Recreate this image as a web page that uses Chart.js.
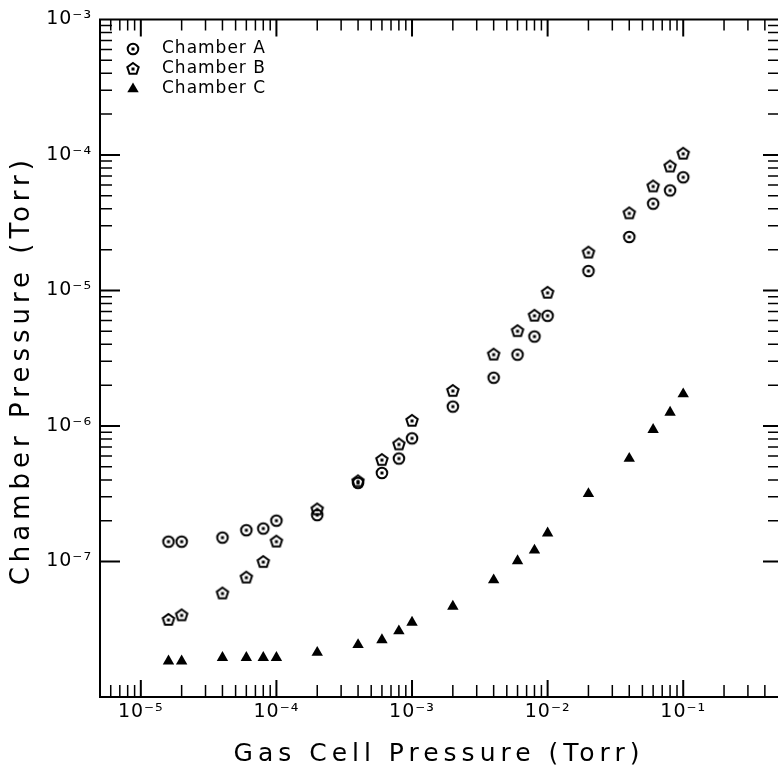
<!DOCTYPE html>
<html><head><meta charset="utf-8">
<script src="https://cdn.jsdelivr.net/npm/chart.js@4/dist/chart.umd.min.js"></script>
<style>html,body{margin:0;padding:0;background:#fff;overflow:hidden}#wrap{width:785px;height:773px;}</style>
</head><body>
<div id="wrap"><canvas id="c" width="785" height="773"></canvas></div>
<script>
// ---- data ----
const gasCellPressure = [1.6e-5, 2e-5, 4e-5, 6e-5, 8e-5, 1e-4, 2e-4, 4e-4, 6e-4, 8e-4, 1e-3, 2e-3, 4e-3, 6e-3, 8e-3, 1e-2, 2e-2, 4e-2, 6e-2, 8e-2, 1e-1];
const chamberA = [1.4e-7, 1.4e-7, 1.5e-7, 1.7e-7, 1.75e-7, 2.0e-7, 2.2e-7, 3.8e-7, 4.5e-7, 5.75e-7, 8.1e-7, 1.39e-6, 2.27e-6, 3.36e-6, 4.57e-6, 6.5e-6, 1.39e-5, 2.48e-5, 4.37e-5, 5.47e-5, 6.84e-5];
const chamberB = [3.7e-8, 4.0e-8, 5.8e-8, 7.6e-8, 9.9e-8, 1.4e-7, 2.42e-7, 3.9e-7, 5.6e-7, 7.3e-7, 1.09e-6, 1.81e-6, 3.36e-6, 5.0e-6, 6.5e-6, 9.6e-6, 1.9e-5, 3.7e-5, 5.85e-5, 8.2e-5, 1.02e-4];
const chamberC = [1.84e-8, 1.84e-8, 1.95e-8, 1.95e-8, 1.95e-8, 1.95e-8, 2.13e-8, 2.43e-8, 2.64e-8, 3.07e-8, 3.55e-8, 4.66e-8, 7.3e-8, 1.01e-7, 1.21e-7, 1.62e-7, 3.16e-7, 5.75e-7, 9.4e-7, 1.26e-6, 1.72e-6];
const seriesNames = ['Chamber A', 'Chamber B', 'Chamber C'];
const xTickExponents = [-5, -4, -3, -2, -1];
const yTickExponents = [-7, -6, -5, -4, -3];
const xTitle = 'Gas Cell Pressure (Torr)';
const yTitle = 'Chamber Pressure (Torr)';

// ---- helpers ----
const SUP = {'-':'\u207B','0':'\u2070','1':'\u00B9','2':'\u00B2','3':'\u00B3','4':'\u2074','5':'\u2075','6':'\u2076','7':'\u2077','8':'\u2078','9':'\u2079'};
function pow10Label(e){ return '10' + String(e).split('').map(c => SUP[c]).join(''); }

function makeMarker(kind){
  const s = 18, c = document.createElement('canvas'); c.width = s; c.height = s;
  const g = c.getContext('2d'); g.strokeStyle = '#000'; g.fillStyle = '#000'; g.lineWidth = 2;
  const cx = s/2, cy = s/2;
  g.beginPath();
  if (kind === 'circle') { g.arc(cx, cy, 5.3, 0, 2*Math.PI); }
  else {
    for (let k = 0; k < 5; k++) {
      const a = -Math.PI/2 + k*2*Math.PI/5;
      const px = cx + 6*Math.cos(a), py = cy + 6*Math.sin(a);
      if (k) g.lineTo(px, py); else g.moveTo(px, py);
    }
    g.closePath();
  }
  g.stroke();
  g.fillRect(cx - 1.5, cy - 1.5, 3, 3);
  return c;
}
const markerA = makeMarker('circle');
const markerB = makeMarker('pentagon');

function pts(ys){ return gasCellPressure.map((x, i) => ({x: x, y: ys[i]})); }

const FONT = 'DejaVu Sans';

const spacingPlugin = {
  id: 'spacing',
  afterLayout(chart){
    const ys = chart.scales.y;
    if (ys && !ys._shifted) {
      const orig = ys.drawTitle;
      ys.drawTitle = function(){ const c = this.ctx; c.save(); c.translate(0, 12); orig.apply(this, arguments); c.restore(); };
      ys._shifted = true;
    }
  },
  beforeDraw(chart){ chart.ctx.letterSpacing = '5px'; },
  beforeDatasetsDraw(chart){ chart.ctx.letterSpacing = '1px'; },
  afterDraw(chart){ chart.ctx.letterSpacing = '0px'; }
};

const frameTicks = {
  id: 'frameTicks',
  afterDraw(chart){
    const {ctx, chartArea: {left, right, top, bottom}, scales: {x, y}} = chart;
    ctx.save();
    ctx.strokeStyle = '#000'; ctx.lineCap = 'butt';
    ctx.lineWidth = 2;
    ctx.beginPath();
    ctx.moveTo(left - 1, top); ctx.lineTo(right, top);
    ctx.moveTo(left, top - 1); ctx.lineTo(left, bottom + 1);
    ctx.moveTo(left - 1, bottom); ctx.lineTo(right, bottom);
    ctx.stroke();
    for (let e = -7; e <= 0; e++) for (let m = 1; m <= 9; m++) {
      const v = m * Math.pow(10, e);
      const major = m === 1;
      const px = x.getPixelForValue(v);
      if (px > left + 1 && px < right - 1) {
        ctx.lineWidth = major ? 2 : 1.5;
        ctx.beginPath();
        ctx.moveTo(px, bottom); ctx.lineTo(px, bottom - (major ? 17 : 12));
        ctx.moveTo(px, top); ctx.lineTo(px, top + (major ? 17 : 11));
        ctx.stroke();
      }
      const py = y.getPixelForValue(v);
      if (py > top + 1 && py < bottom - 1) {
        ctx.lineWidth = major ? 2 : 1.5;
        ctx.beginPath();
        ctx.moveTo(left, py); ctx.lineTo(left + (major ? 20 : 12), py);
        ctx.moveTo(right, py); ctx.lineTo(right - (major ? 15 : 10), py);
        ctx.stroke();
      }
    }
    ctx.restore();
  }
};

const insideLegend = {
  id: 'insideLegend',
  afterDraw(chart){
    const ctx = chart.ctx;
    ctx.save();
    ctx.letterSpacing = '1px';
    ctx.font = '17px "' + FONT + '"';
    ctx.fillStyle = '#000'; ctx.strokeStyle = '#000';
    ctx.textAlign = 'left'; ctx.textBaseline = 'middle';
    chart.data.datasets.forEach((ds, i) => {
      const yy = 49 + i * 20;
      Chart.helpers.drawPoint(ctx, {pointStyle: ds.pointStyle, radius: ds.pointRadius, borderWidth: 0, rotation: 0}, 133, yy);
      ctx.fillText(ds.label, 162, yy);
    });
    ctx.restore();
  }
};

new Chart(document.getElementById('c'), {
  type: 'scatter',
  data: {
    datasets: [
      {label: seriesNames[0], data: pts(chamberA), pointStyle: markerA, pointRadius: 6, backgroundColor: '#000', borderColor: '#000'},
      {label: seriesNames[1], data: pts(chamberB), pointStyle: markerB, pointRadius: 6, backgroundColor: '#000', borderColor: '#000'},
      {label: seriesNames[2], data: pts(chamberC), pointStyle: 'triangle', pointRadius: 6.6, borderWidth: 0, backgroundColor: '#000', borderColor: '#000'}
    ]
  },
  options: {
    responsive: false, animation: false, devicePixelRatio: 1,
    layout: {padding: {top: 12, right: 0, bottom: 0, left: 0}},
    plugins: {legend: {display: false}, tooltip: {enabled: false}},
    scales: {
      x: {
        type: 'logarithmic', position: 'bottom', min: 5e-6, max: 0.5,
        afterBuildTicks: s => { s.ticks = xTickExponents.map(e => ({value: Math.pow(10, e)})); },
        afterFit: s => { s.height = 76; },
        grid: {display: false, drawTicks: false}, border: {display: false},
        ticks: {callback: v => pow10Label(Math.round(Math.log10(v))), font: {family: FONT, size: 19}, color: '#000', padding: 4, maxRotation: 0, autoSkip: false, z: 1},
        title: {display: true, text: xTitle, font: {family: FONT, size: 25}, color: '#000', padding: {top: 0, bottom: 4}}
      },
      y: {
        type: 'logarithmic', position: 'left', min: 1e-8, max: 1e-3,
        afterBuildTicks: s => { s.ticks = yTickExponents.map(e => ({value: Math.pow(10, e)})); },
        afterFit: s => { s.width = 100; },
        grid: {display: false, drawTicks: false}, border: {display: false},
        ticks: {callback: v => pow10Label(Math.round(Math.log10(v))), font: {family: FONT, size: 19}, color: '#000', padding: 8, autoSkip: false, z: 1},
        title: {display: true, text: yTitle, font: {family: FONT, size: 26}, color: '#000', padding: {top: 7, bottom: 0}}
      }
    }
  },
  plugins: [spacingPlugin, frameTicks, insideLegend]
});
</script>
</body></html>
